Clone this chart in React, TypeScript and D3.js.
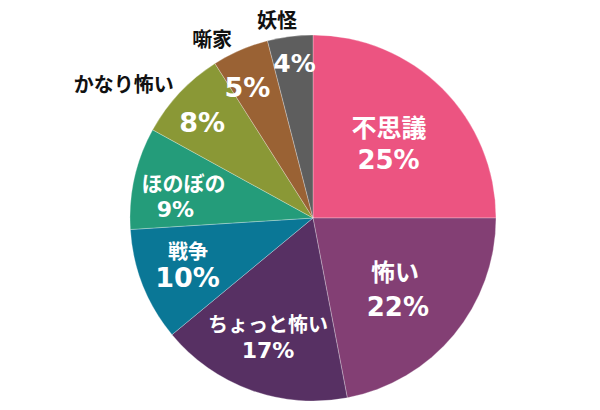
import React from "react";
import * as d3 from "d3";

const categories = ["不思議", "怖い", "ちょっと怖い", "戦争", "ほのぼの", "かなり怖い", "噺家", "妖怪"];
const values = [25, 22, 17, 10, 9, 8, 5, 4];
const colors = ["#EC5481", "#833F74", "#573063", "#0A7796", "#249C7A", "#8A9836", "#9A6234", "#5E5E5E"];

// label placement relative to slice mid-angle: da = angle offset (deg), r = radius fraction
type P = { da: number; r: number; size: number };
const nameLayout: P[] = [
  { da: -5.3, r: 0.65, size: 25 },
  { da: -7.2, r: 0.531, size: 24 },
  { da: 3.3, r: 0.627, size: 20 },
  { da: 7.0, r: 0.706, size: 20 },
  { da: 3.1, r: 0.735, size: 21 },
  { da: -7.8, r: 1.268, size: 20 },
  { da: -6.0, r: 1.123, size: 20 },
  { da: -3.1, r: 1.1, size: 20 },
];
const pctLayout: P[] = [
  { da: 7.7, r: 0.519, size: 26 },
  { da: 6.9, r: 0.674, size: 26 },
  { da: -1.0, r: 0.762, size: 22 },
  { da: -3.95, r: 0.76, size: 27 },
  { da: -9.1, r: 0.753, size: 22 },
  { da: -2.6, r: 0.798, size: 27 },
  { da: -3.2, r: 0.8, size: 27 },
  { da: 0.35, r: 0.848, size: 25 },
];
const outsideName = [false, false, false, false, false, true, true, true];

const W = 600, H = 410;
const cx = 313, cy = 218, R = 183;
const cjkFont = "'Noto Sans CJK JP', 'Noto Sans', sans-serif";
const numFont = "'DejaVu Sans', sans-serif";

export default function App() {
  const data = categories.map((c, i) => ({ c, v: values[i], i }));
  const pie = d3.pie<any>().value((d) => d.v).sort(null);
  const arcs = pie(data);
  const arc = d3.arc<any>().innerRadius(0).outerRadius(R);
  const pos = (a: any, p: P) => {
    const ang = (a.startAngle + a.endAngle) / 2 + (p.da * Math.PI) / 180;
    return [Math.sin(ang) * R * p.r, -Math.cos(ang) * R * p.r];
  };
  return (
    <svg width={W} height={H} style={{ position: "absolute", left: 0, top: 0 }}>
      <g transform={`translate(${cx},${cy})`}>
        {arcs.map((a, i) => (
          <path key={i} d={arc(a) as string} fill={colors[i]} stroke="#ffffff" strokeOpacity={0.35} strokeWidth={0.8} />
        ))}
        {arcs.map((a, i) => {
          const [nx, ny] = pos(a, nameLayout[i]);
          const [px, py] = pos(a, pctLayout[i]);
          return (
            <g key={i} fontWeight="bold">
              <text x={nx} y={ny} textAnchor="middle" dominantBaseline="central" fontFamily={cjkFont}
                fill={outsideName[i] ? "#111111" : "#ffffff"} fontSize={nameLayout[i].size}>{categories[i]}</text>
              <text x={px} y={py} textAnchor="middle" dominantBaseline="central" fontFamily={numFont}
                fill="#ffffff" fontSize={pctLayout[i].size}>{`${values[i]}%`}</text>
            </g>
          );
        })}
      </g>
    </svg>
  );
}
